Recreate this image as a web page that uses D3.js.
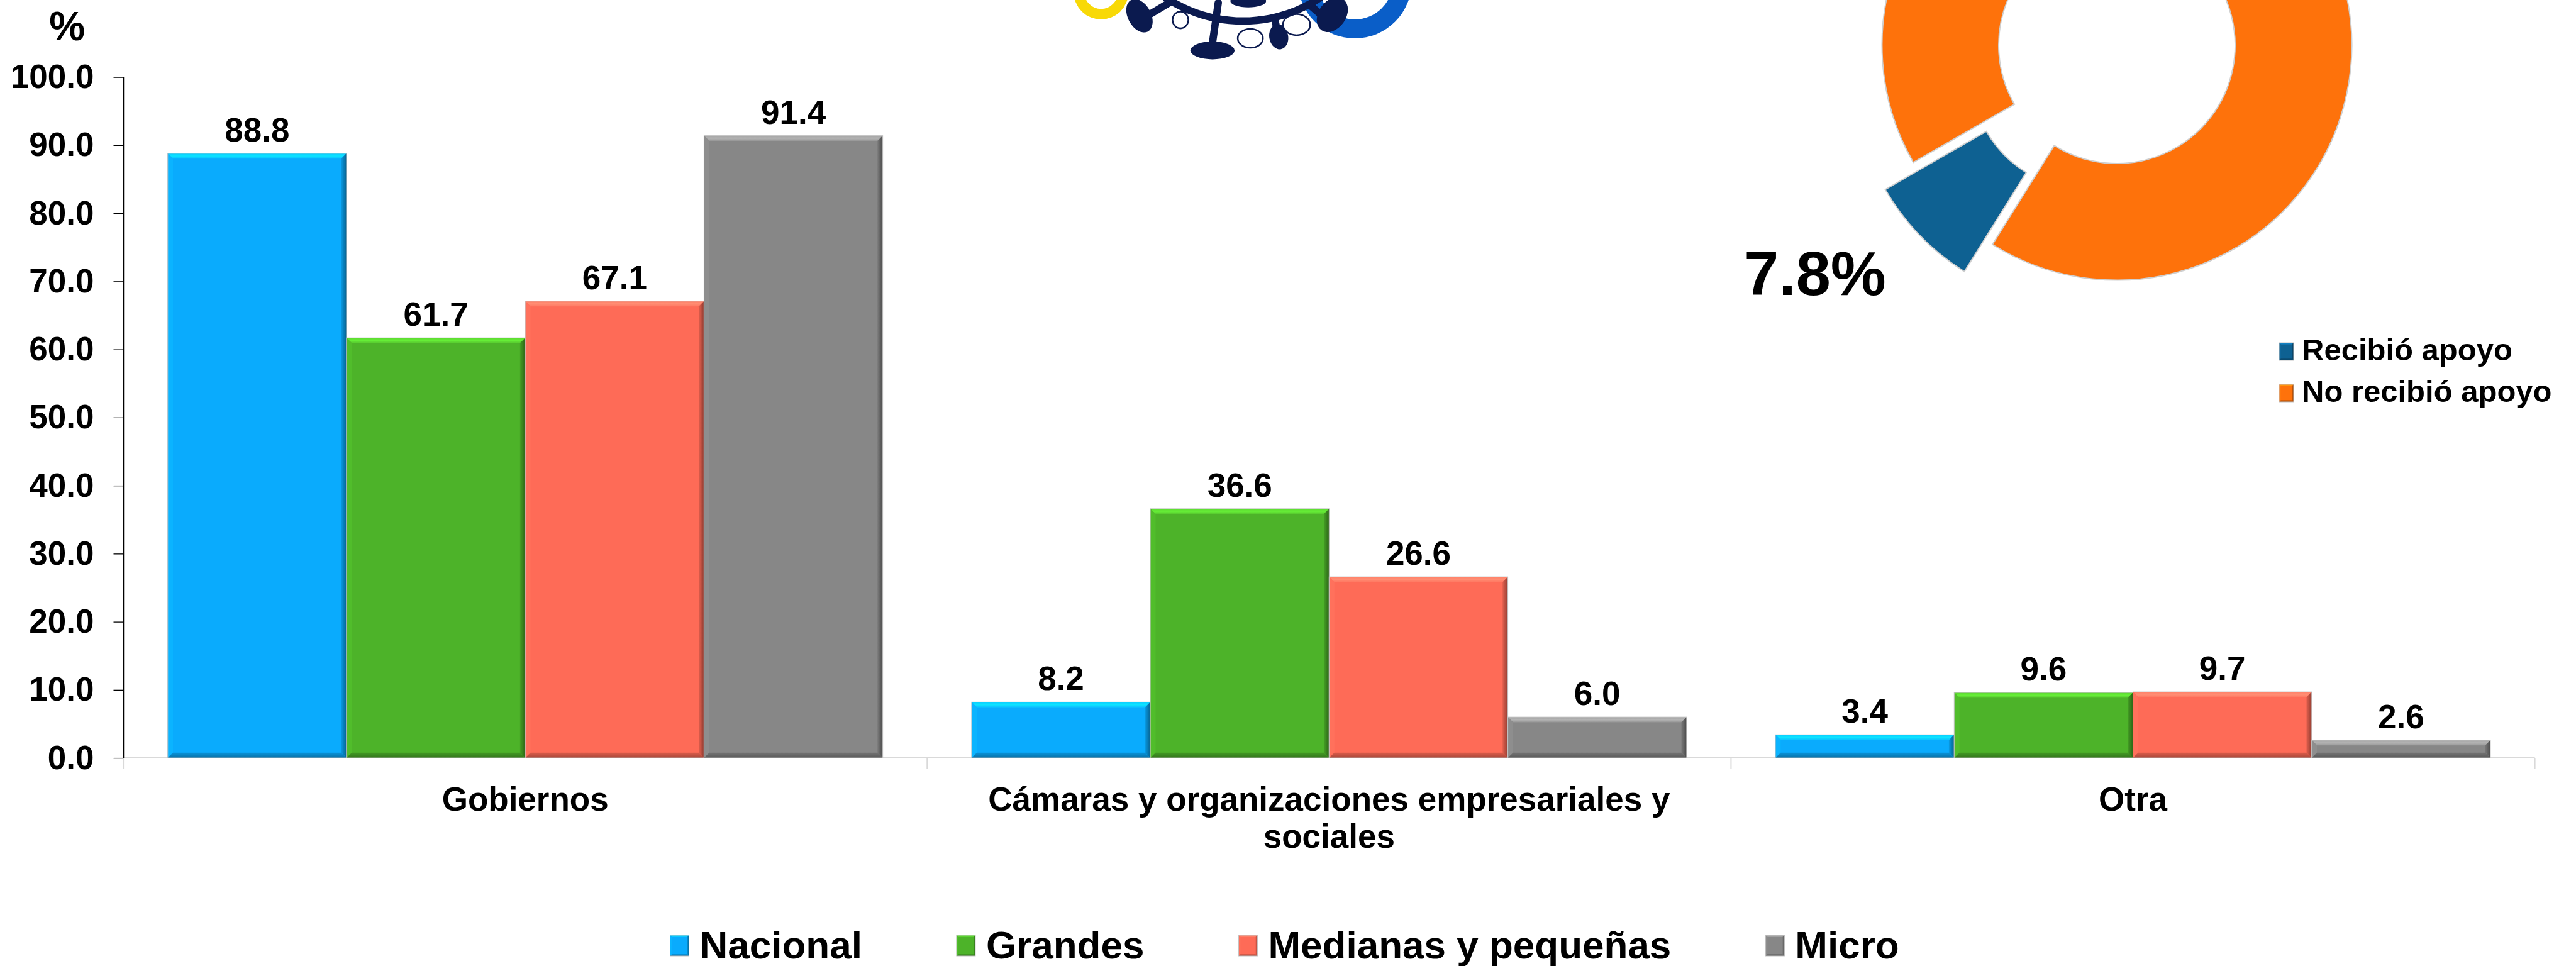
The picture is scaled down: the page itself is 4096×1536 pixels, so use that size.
<!DOCTYPE html>
<html>
<head>
<meta charset="utf-8">
<script src="https://cdnjs.cloudflare.com/ajax/libs/d3/7.8.5/d3.min.js"></script>
<style>
  body { margin: 0; background: #fff; }
  svg { display: block; font-family: "Liberation Sans", Arial, sans-serif; font-weight: bold; }
</style>
</head>
<body>
<div id="chart"></div>
<script>
// data
var categories = ["Gobiernos", "Cámaras y organizaciones empresariales y sociales", "Otra"];
var seriesNames = ["Nacional", "Grandes", "Medianas y pequeñas", "Micro"];
var nacional = [88.8, 8.2, 3.4];
var grandes  = [61.7, 36.6, 9.6];
var medianas = [67.1, 26.6, 9.7];
var micro    = [91.4, 6.0, 2.6];
var yTicks = [0, 10, 20, 30, 40, 50, 60, 70, 80, 90, 100];

var apoyoLabels = ["Recibió apoyo", "No recibió apoyo"];
var apoyoValues = [7.8, 92.2];

var seriesColors = ["#0aabfd", "#4db329", "#fe6b57", "#878787"];
var apoyoColors = ["#0e6192", "#fe720b"];

var W = 4096, H = 1536;
var margin = {top: 122.6, right: W - 4030.6, bottom: H - 1205.1, left: 196.1};
var width = W - margin.left - margin.right,
    height = H - margin.top - margin.bottom;

var svg = d3.select("#chart").append("svg")
  .attr("width", W)
  .attr("height", H);
svg.append("rect").attr("width", W).attr("height", H).attr("fill", "#fff");
var defs = svg.append("defs");

// bevel gradients, one set per colour
function makeGrads(id, color) {
  var c = d3.color(color);
  var r = defs.append("linearGradient").attr("id", "r" + id).attr("x1", 0).attr("x2", 1).attr("y1", 0).attr("y2", 0);
  r.append("stop").attr("offset", 0).attr("stop-color", c.darker(0.3));
  r.append("stop").attr("offset", 1).attr("stop-color", c.darker(1.6));
  var b = defs.append("linearGradient").attr("id", "b" + id).attr("x1", 0).attr("x2", 0).attr("y1", 0).attr("y2", 1);
  b.append("stop").attr("offset", 0).attr("stop-color", c.darker(0.4));
  b.append("stop").attr("offset", 1).attr("stop-color", c.darker(1.2));
  var t = defs.append("linearGradient").attr("id", "t" + id).attr("x1", 0).attr("x2", 0).attr("y1", 0).attr("y2", 1);
  t.append("stop").attr("offset", 0).attr("stop-color", c.brighter(0.5));
  t.append("stop").attr("offset", 0.5).attr("stop-color", c.brighter(0.8));
  t.append("stop").attr("offset", 1).attr("stop-color", c.brighter(0.3));
}
seriesColors.forEach(function(c, i){ makeGrads("s" + i, c); });
apoyoColors.forEach(function(c, i){ makeGrads("a" + i, c); });

function bevelRect(g, x, y, w, h, color, id, bev) {
  var b = Math.min(bev, h / 2, w / 2);
  var c = d3.color(color);
  var line = d3.line();
  g.append("rect").attr("x", x).attr("y", y).attr("width", w).attr("height", h).attr("fill", color);
  g.append("path").attr("d", line([[x, y], [x + w, y], [x + w - b, y + b], [x + b, y + b]]) + "Z").attr("fill", "url(#t" + id + ")");
  g.append("path").attr("d", line([[x, y], [x + b, y + b], [x + b, y + h - b], [x, y + h]]) + "Z").attr("fill", c.brighter(0.15));
  g.append("path").attr("d", line([[x + w, y], [x + w, y + h], [x + w - b, y + h - b], [x + w - b, y + b]]) + "Z").attr("fill", "url(#r" + id + ")");
  g.append("path").attr("d", line([[x, y + h], [x + b, y + h - b], [x + w - b, y + h - b], [x + w, y + h]]) + "Z").attr("fill", "url(#b" + id + ")");
  g.append("rect").attr("x", x).attr("y", y).attr("width", w).attr("height", h)
    .attr("fill", "none").attr("stroke", "#c4c4c4").attr("stroke-width", 1);
}

// ---------- logo (decorative, partly off the top edge) ----------
var logo = svg.append("g").attr("transform", "scale(0.8357)");
var ring = d3.arc().startAngle(0).endAngle(2 * Math.PI);
logo.append("path").attr("transform", "translate(2095,-15)")
  .attr("d", ring.innerRadius(32).outerRadius(52)()).attr("fill", "#f8d907");
logo.append("path").attr("transform", "translate(2578,-35)")
  .attr("d", ring.innerRadius(72).outerRadius(108)()).attr("fill", "#0a5ec8");
var navy = "#0b1a4f";
[[2246, 38, 15, 16], [2379, 73, 24, 18], [2467, 47, 26, 20]].forEach(function(e){
  logo.append("ellipse").attr("cx", e[0]).attr("cy", e[1]).attr("rx", e[2]).attr("ry", e[3])
    .attr("fill", "#fff").attr("stroke", navy).attr("stroke-width", 3);
});
[[2225, 5, 2180, 32], [2318, 5, 2306, 88], [2425, 35, 2433, 70], [2495, 12, 2525, 38]].forEach(function(s){
  logo.append("line").attr("x1", s[0]).attr("y1", s[1]).attr("x2", s[2]).attr("y2", s[3])
    .attr("stroke", navy).attr("stroke-width", 14).attr("stroke-linecap", "round");
});
logo.append("path").attr("d", d3.arc().innerRadius(258).outerRadius(272).startAngle(0).endAngle(2 * Math.PI)())
  .attr("transform", "translate(2365,-225)").attr("fill", navy);
[[2168, 30, 22, 34, -28], [2307, 96, 42, 17, 0], [2433, 70, 18, 24, -10], [2535, 28, 26, 36, 35], [2375, 2, 34, 12, 0]].forEach(function(e){
  logo.append("ellipse").attr("cx", 0).attr("cy", 0).attr("rx", e[2]).attr("ry", e[3])
    .attr("transform", "translate(" + e[0] + "," + e[1] + ") rotate(" + e[4] + ")")
    .attr("fill", navy);
});

// ---------- bar chart ----------
var focus = svg.append("g").attr("transform", "translate(" + margin.left + "," + margin.top + ")");

var y = d3.scaleLinear().domain([0, 100]).range([height, 0]);
var x0 = d3.scaleBand().domain(categories).range([0, width]).paddingInner(0.1105).paddingOuter(0.05525);
var x1 = d3.scaleBand().domain(seriesNames).range([0, x0.bandwidth()]);
var fmt = d3.format(".1f");

// category axis (light grey, ticks between categories)
var xAxisG = focus.append("g").attr("transform", "translate(0," + height + ")");
xAxisG.append("line").attr("x1", 0).attr("x2", width).attr("stroke", "#d9d9d9").attr("stroke-width", 2);
d3.range(categories.length + 1).forEach(function(i){
  var xx = x0.range()[0] + i * x0.step();
  xAxisG.append("line").attr("x1", xx).attr("x2", xx).attr("y1", 0).attr("y2", 17)
    .attr("stroke", "#d9d9d9").attr("stroke-width", 2);
});

var seriesData = [nacional, grandes, medianas, micro];
var rows = categories.map(function(c, i){
  return {cat: c, vals: seriesData.map(function(s, j){ return {name: seriesNames[j], idx: j, value: s[i]}; })};
});

var groups = focus.selectAll(".grp").data(rows).enter().append("g")
  .attr("class", "grp")
  .attr("transform", function(d){ return "translate(" + x0(d.cat) + ",0)"; });

groups.each(function(d){
  var g = d3.select(this);
  d.vals.forEach(function(v){
    var bx = x1(v.name), by = y(v.value), bw = x1.bandwidth(), bh = height - y(v.value);
    bevelRect(g, bx, by, bw, bh, seriesColors[v.idx], "s" + v.idx, 8.4);
    g.append("text")
      .attr("x", bx + bw / 2).attr("y", by - 19)
      .attr("text-anchor", "middle").attr("font-size", 53)
      .text(fmt(v.value));
  });
});

// y axis
var yAxis = d3.axisLeft(y).tickValues(yTicks).tickFormat(fmt).tickSize(15.6).tickSizeOuter(0).tickPadding(31);
var yAxisG = focus.append("g").call(yAxis);
yAxisG.select(".domain").attr("stroke", "#000").attr("stroke-width", 1.3);
yAxisG.selectAll(".tick line").attr("stroke", "#000").attr("stroke-width", 1.3);
yAxisG.selectAll("text").attr("font-size", 53).attr("font-family", "Liberation Sans, Arial, sans-serif")
  .attr("font-weight", "bold").attr("fill", "#000");

svg.append("text").attr("x", 106.6).attr("y", 64).attr("text-anchor", "middle")
  .attr("font-size", 64).text("%");

// category labels with wrapping
function wrap(textSel, maxW) {
  textSel.each(function(){
    var text = d3.select(this), words = text.text().split(/\s+/).reverse(),
        word, line = [],
        xx = text.attr("x"),
        tspan = text.text(null).append("tspan").attr("x", xx).attr("dy", 0);
    while ((word = words.pop())) {
      line.push(word);
      tspan.text(line.join(" "));
      if (tspan.node().getComputedTextLength() > maxW && line.length > 1) {
        line.pop();
        tspan.text(line.join(" "));
        line = [word];
        tspan = text.append("tspan").attr("x", xx).attr("dy", 59).text(word);
      }
    }
  });
}
focus.selectAll(".cat").data(categories).enter().append("text")
  .attr("class", "cat")
  .attr("x", function(d){ return x0(d) + x0.bandwidth() / 2; })
  .attr("y", height + 83.5)
  .attr("text-anchor", "middle").attr("font-size", 53)
  .text(function(d){ return d; })
  .call(wrap, x0.bandwidth());

// series legend at bottom
var legend = svg.append("g");
var lx = 0, legItems = [];
seriesNames.forEach(function(n, i){
  var it = legend.append("g");
  bevelRect(it, 0, -37, 30, 33, seriesColors[i], "s" + i, 3);
  var t = it.append("text").attr("x", 47).attr("y", 0).attr("font-size", 62).text(n);
  var w = 47 + t.node().getComputedTextLength();
  legItems.push({g: it, x: lx});
  lx += w + 150;
});
var legTotal = lx - 150;
var legStart = 2042.6 - legTotal / 2;
legItems.forEach(function(d){ d.g.attr("transform", "translate(" + (legStart + d.x) + ",1524)"); });

// ---------- donut ----------
var cx = 3366, cy = 72, rOut = 373.5, rIn = 188, explode = 62;
var a0 = 212 * Math.PI / 180;
var pie = d3.pie().sort(null).startAngle(a0).endAngle(a0 + 2 * Math.PI);
var arc = d3.arc().innerRadius(rIn).outerRadius(rOut);
var arcs = pie(apoyoValues);
var donut = svg.append("g").attr("transform", "translate(" + cx + "," + cy + ")");
donut.selectAll(".slice").data(arcs).enter().append("path")
  .attr("class", "slice")
  .attr("d", arc)
  .attr("transform", function(d, i){
    if (i !== 0) return null;
    var m = (d.startAngle + d.endAngle) / 2;
    return "translate(" + (Math.sin(m) * explode) + "," + (-Math.cos(m) * explode) + ")";
  })
  .attr("fill", function(d, i){ return apoyoColors[i]; })
  .attr("stroke", "#cfcfcf").attr("stroke-width", 2);

var blue = arcs[0], mid = (blue.startAngle + blue.endAngle) / 2, rLab = 510;
donut.append("text")
  .attr("x", Math.sin(mid) * rLab).attr("y", -Math.cos(mid) * rLab)
  .attr("dy", "0.43em").attr("text-anchor", "end").attr("font-size", 99)
  .text(fmt(apoyoValues[0]) + "%");

// donut legend
apoyoLabels.forEach(function(n, i){
  var g = svg.append("g").attr("transform", "translate(3624," + (573 + i * 66) + ")");
  bevelRect(g, 0, -28, 23, 28, apoyoColors[i], "a" + i, 3);
  g.append("text").attr("x", 36).attr("y", 0).attr("font-size", 49).text(n);
});
</script>
</body>
</html>
